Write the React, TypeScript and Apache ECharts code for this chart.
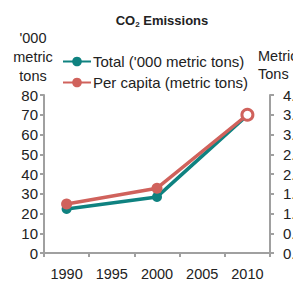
import React, { useEffect, useRef } from "react";
import * as echarts from "echarts";

const years = ["1990", "1995", "2000", "2005", "2010"];
const totalValues = [22.3, null, 28.4, null, 69.8];
const perCapitaValues = [1.24, null, 1.64, null, 3.5];
const leftTicks = { min: 0, max: 80, interval: 10 };
const rightTicks = { min: 0, max: 4, interval: 0.5 };

const TEAL = "#0f8280";
const RED = "#d0625c";
const FONT = "Liberation Sans";

export default function App() {
  const ref = useRef<HTMLDivElement>(null);
  useEffect(() => {
    if (!ref.current) return;
    const chart = echarts.init(ref.current, null, { renderer: "svg" });
    const axisLine = { show: true, lineStyle: { color: "#a0a0a0", width: 2 } };
    const axisTick = { show: true, length: 4, lineStyle: { color: "#a0a0a0", width: 2 } };
    chart.setOption({
      animation: false,
      backgroundColor: "#ffffff",
      title: {
        text: "{b|CO}{s|2}{b| Emissions}",
        left: 157,
        textAlign: "center",
        top: 7,
        textStyle: {
          rich: {
            b: { fontFamily: FONT, fontSize: 13, fontWeight: "bold", color: "#222" },
            s: { fontFamily: FONT, fontSize: 8, fontWeight: "bold", color: "#222", verticalAlign: "bottom", padding: [8, 0, 0, 0] },
          },
        },
      },
      legend: {
        orient: "vertical",
        left: 62,
        top: 54,
        padding: 0,
        itemWidth: 28,
        itemHeight: 12,
        itemGap: 6,
        textStyle: { fontFamily: FONT, fontSize: 15, color: "#222", padding: [0, 0, 0, -3] },
        data: ["Total ('000 metric tons)", "Per capita (metric tons)"],
      },
      grid: { left: 44, right: 26, top: 95, bottom: 29, outerBoundsMode: "none", containLabel: false },
      xAxis: {
        type: "category",
        data: years,
        boundaryGap: true,
        axisLine,
        axisTick: { ...axisTick, alignWithLabel: false },
        axisLabel: { fontFamily: FONT, fontSize: 14.5, color: "#222", margin: 13 },
      },
      yAxis: [
        {
          type: "value",
          ...leftTicks,
          name: "'000\nmetric\ntons",
          nameLocation: "end",
          nameGap: 10,
          nameTextStyle: { fontFamily: FONT, fontSize: 14.5, color: "#222", lineHeight: 19, align: "center", padding: [0, 22, 0, 0] },
          axisLine,
          axisTick,
          splitLine: { show: false },
          axisLabel: { fontFamily: FONT, fontSize: 15, color: "#222", margin: 6 },
        },
        {
          type: "value",
          ...rightTicks,
          position: "right",
          name: "Metric\nTons",
          nameLocation: "end",
          nameGap: 12,
          nameTextStyle: { fontFamily: FONT, fontSize: 14.5, color: "#222", lineHeight: 18, align: "left", padding: [0, 0, 0, -12] },
          axisLine,
          axisTick,
          splitLine: { show: false },
          axisLabel: { fontFamily: FONT, fontSize: 15, color: "#222", margin: 13, formatter: (v: number) => v.toFixed(1) },
        },
      ],
      series: [
        {
          name: "Total ('000 metric tons)",
          type: "line",
          yAxisIndex: 0,
          data: totalValues,
          connectNulls: true,
          symbol: "circle",
          symbolSize: 10,
          lineStyle: { color: TEAL, width: 3.5 },
          itemStyle: { color: TEAL },
        },
        {
          name: "Per capita (metric tons)",
          type: "line",
          yAxisIndex: 1,
          data: perCapitaValues.map((v, i) =>
            i === perCapitaValues.length - 1
              ? { value: v, itemStyle: { color: "#ffffff", borderColor: RED, borderWidth: 3 } }
              : v
          ),
          connectNulls: true,
          symbol: "circle",
          symbolSize: 11,
          lineStyle: { color: RED, width: 3.5 },
          itemStyle: { color: RED },
        },
      ],
    });
    return () => chart.dispose();
  }, []);
  return (
    <div style={{ position: "absolute", left: 0, top: 0, width: 293, height: 282, overflow: "hidden", background: "#fff" }}>
      <div ref={ref} style={{ width: 296, height: 282 }} />
    </div>
  );
}
